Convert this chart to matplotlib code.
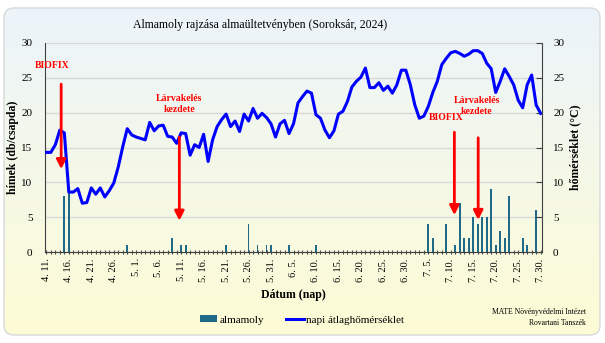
import numpy as np
import matplotlib
matplotlib.use("Agg")
import matplotlib.pyplot as plt
from matplotlib.patches import FancyBboxPatch

plt.rcParams['font.family'] = ['Liberation Serif', 'DejaVu Serif']

# ---- data ----
title = "Almamoly rajzása almaültetvényben (Soroksár, 2024)"
tick_labels = ["4. 11.", "4. 16.", "4. 21.", "4. 26.", "5. 1.", "5. 6.", "5. 11.",
               "5. 16.", "5. 21.", "5. 26.", "5. 31.", "6. 5.", "6. 10.", "6. 15.",
               "6. 20.", "6. 25.", "6. 30.", "7. 5.", "7. 10.", "7. 15.", "7. 20.",
               "7. 25.", "7. 30."]
# daily male catches (4.11 .. 7.30)
catches = [0, 0, 0, 0, 8, 9, 0, 0, 0, 0,
           0, 0, 0, 0, 0, 0, 0, 0, 1, 0,
           0, 0, 0, 0, 0, 0, 0, 0, 2, 0,
           1, 1, 0, 0, 0, 0, 0, 0, 0, 0,
           1, 0, 0, 0, 0, 4, 0, 1, 0, 1,
           1, 0, 0, 0, 1, 0, 0, 0, 0, 0,
           1, 0, 0, 0, 0, 0, 0, 0, 0, 0,
           0, 0, 0, 0, 0, 0, 0, 0, 0, 0,
           0, 0, 0, 0, 0, 4, 2, 0, 0, 4,
           0, 1, 7, 2, 2, 5, 4, 5, 5, 9,
           1, 3, 2, 8, 0, 0, 2, 1, 0, 6,
           0]
# daily mean temperature (°C)
temperature = [14.3, 14.3, 15.4, 17.5, 17.1, 8.6, 8.6, 9.1, 7.0, 7.1,
               9.2, 8.3, 9.2, 7.9, 8.8, 9.9, 12.2, 15.1, 17.7, 16.8,
               16.5, 16.3, 16.1, 18.6, 17.4, 18.1, 18.2, 16.6, 16.5, 15.6,
               17.1, 17.0, 13.9, 15.4, 15.0, 16.9, 13.0, 16.1, 18.0, 19.0,
               19.8, 18.0, 18.8, 17.3, 19.8, 18.8, 20.6, 19.2, 19.9, 19.3,
               18.4, 16.5, 18.4, 18.9, 17.0, 18.4, 21.4, 22.3, 23.1, 22.8,
               19.7, 19.2, 17.5, 16.4, 17.4, 19.8, 20.2, 21.6, 23.7, 24.5,
               25.1, 26.4, 23.6, 23.6, 24.3, 23.2, 23.8, 22.8, 24.0, 26.1,
               26.1, 24.0, 21.1, 19.2, 19.5, 20.9, 22.9, 24.5, 26.9, 27.8,
               28.6, 28.8, 28.5, 28.1, 28.4, 28.9, 28.9, 28.5, 27.1, 26.3,
               22.9, 24.5, 26.3, 25.2, 24.0, 21.8, 20.7, 24.0, 25.4, 21.1,
               19.9]
# annotations: (label, day index of arrow, arrow top, arrow bottom, text x, text y)
ann_labels = ["BIOFIX", "Lárvakelés\nkezdete", "BIOFIX", "Lárvakelés\nkezdete"]
ann_day = [3.3, 29.6, 90.8, 96.1]
ann_top = [24.1, 16.5, 17.2, 16.4]
ann_bottom = [11.9, 4.5, 5.3, 4.6]
ann_text_x = [1.2, 29.6, 89.0, 95.8]
ann_text_y = [26.7, 21.2, 19.3, 21.0]

days = np.arange(len(temperature))

# ---- figure ----
W, H = 605, 343
fig = plt.figure(figsize=(W / 100, H / 100), dpi=100)

# background panel with gradient
bg = fig.add_axes([0, 0, 1, 1], zorder=-10)
bg.set_xlim(0, W)
bg.set_ylim(H, 0)
bg.axis('off')
top_c = np.array([0.925, 0.957, 0.984])
bot_c = np.array([0.992, 0.988, 0.835])
t = np.linspace(0, 1, 256)[:, None]
grad = top_c[None, None, :] * (1 - t[..., None]) + bot_c[None, None, :] * t[..., None]
grad = np.repeat(grad, 2, axis=1)
im = bg.imshow(grad, extent=(4, 600, 335, 8), aspect='auto', zorder=0)
panel = FancyBboxPatch((4, 8), 596, 327, boxstyle="round,pad=0,rounding_size=10",
                       facecolor='none', edgecolor='#d9d9d9', lw=1.0, zorder=1)
bg.add_patch(panel)
im.set_clip_path(panel)

ax = fig.add_axes([45 / W, 1 - 252 / H, (542 - 45) / W, (252 - 43) / H])
ax.set_facecolor('none')
ax2 = ax.twinx()

ax.bar(days, catches, width=0.4, color='#1f6a88', zorder=2, label='almamoly')
ax2.plot(days, temperature, color='#0000ff', lw=2.2, zorder=3,
         label='napi átlaghőmérséklet')

for a in (ax, ax2):
    a.set_ylim(0, 30)
    a.set_xlim(-0.3, len(days) - 0.7)
ax.set_yticks(np.arange(0, 31, 5))
ax2.set_yticks(np.arange(0, 31, 5))
ax.yaxis.grid(True, color='#d9d9d9', lw=1.0, zorder=0)
ax.set_axisbelow(True)

major = np.arange(0, len(days), 5)
ax.set_xticks(major)
ax.set_xticklabels(tick_labels, rotation=90, fontsize=7.5)
ax.set_xticks(days, minor=True)
ax.tick_params(axis='x', which='both', direction='inout', length=3, width=0.8,
               color='#404040', pad=3)
ax.tick_params(axis='y', length=0, labelsize=8, pad=9)
ax2.tick_params(axis='y', direction='in', length=4, width=0.8, color='#404040',
                labelsize=8, pad=8)

for s in ('top',):
    ax.spines[s].set_visible(False)
    ax2.spines[s].set_visible(False)
ax2.spines['left'].set_visible(False)
ax2.spines['bottom'].set_visible(False)
ax.spines['right'].set_visible(False)
ax.spines['left'].set_color('#404040')
ax.spines['bottom'].set_color('#404040')
ax2.spines['right'].set_color('#404040')

ax.set_ylabel('hímek (db/csapda)', fontsize=8.5, fontweight='bold', labelpad=2)
ax2.set_ylabel('hőmérséklet (°C)', fontsize=8.5, fontweight='bold', labelpad=4)
ax.set_xlabel('Dátum (nap)', fontsize=8.5, fontweight='bold', labelpad=5)

for lab, d, yt, yb, tx, ty in zip(ann_labels, ann_day, ann_top, ann_bottom,
                                  ann_text_x, ann_text_y):
    ax2.annotate('', xy=(d, yb), xytext=(d, yt),
                 arrowprops=dict(arrowstyle='-|>,head_width=0.28,head_length=0.55',
                                 color='#ff0000', lw=2.0, shrinkA=0, shrinkB=0),
                 zorder=5)
    ax2.text(tx, ty, lab, color='#ff0000', fontsize=7, fontweight='bold',
             ha='center', va='center', linespacing=1.3, zorder=5)

fig.text(260 / W, 1 - 25 / H, title, ha='center', va='center', fontsize=8.5)

h1, l1 = ax.get_legend_handles_labels()
h2, l2 = ax2.get_legend_handles_labels()
fig.legend(h1 + h2, l1 + l2, loc='center', bbox_to_anchor=(302 / W, 1 - 320 / H),
           ncol=2, frameon=False, fontsize=8, handlelength=1.6, handleheight=0.5,
           columnspacing=2.0, handletextpad=0.2)

fig.text(586 / W, 1 - 312 / H, 'MATE Növényvédelmi Intézet', ha='right',
         va='center', fontsize=5.5)
fig.text(586 / W, 1 - 323 / H, 'Rovartani Tanszék', ha='right', va='center',
         fontsize=5.5)

fig.savefig('out.png', dpi=100)
